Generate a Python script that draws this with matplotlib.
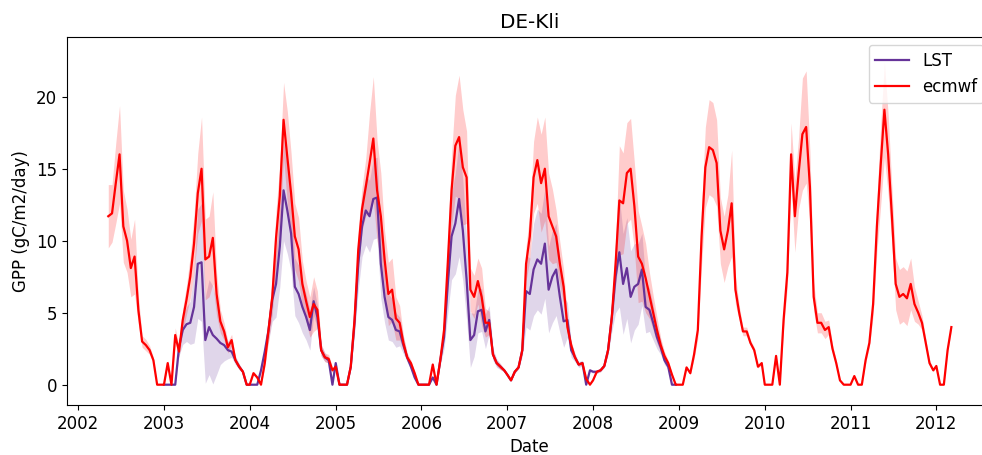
import numpy as np
import pandas as pd
import matplotlib
matplotlib.use("Agg")
import matplotlib.pyplot as plt
import matplotlib.dates as mdates

# 16-day composites (DOY 1, 17, ..., 353), one row per year
ecmwf_gpp = [
    11.7, 11.9, 14.0, 16.0, 11.0, 10.0, 8.1, 8.9, 5.2, 3.0, 2.75, 2.4, 1.7, 0, 0,  # 2002 (from DOY 129)
    0, 1.5, 0, 3.45, 2.3, 4.5, 5.9, 7.5, 9.8, 13.3, 15.0, 8.7, 8.9, 10.2, 6.3, 4.4, 3.7, 2.6, 3.1, 1.7, 1.25, 0.9, 0,
    0, 0.8, 0.5, 0, 1.5, 3.8, 6.1, 10.2, 13.1, 18.4, 15.8, 13.3, 10.3, 9.4, 7.0, 5.8, 4.7, 5.6, 5.2, 2.4, 1.9, 1.8, 1.0,
    1.25, 0, 0, 0, 1.25, 4.5, 9.4, 12.2, 13.75, 15.4, 17.1, 13.5, 11.7, 8.7, 6.3, 6.6, 4.6, 4.3, 2.9, 1.9, 1.5, 0.8, 0,
    0, 0, 0, 1.4, 0, 1.7, 3.8, 8.5, 13.5, 16.6, 17.2, 15.1, 14.4, 6.6, 6.1, 7.2, 6.1, 4.3, 4.3, 2.1, 1.5, 1.25, 1.0,
    0.7, 0.3, 0.9, 1.2, 2.4, 8.4, 10.3, 14.4, 15.6, 14.0, 15.0, 11.7, 11.0, 10.3, 8.4, 6.8, 4.0, 2.75, 1.9, 1.4, 1.5, 0.4, 0,
    0.3, 0.9, 1.0, 1.3, 2.4, 4.7, 8.4, 12.8, 12.6, 14.7, 15.0, 12.4, 8.9, 8.4, 7.4, 6.2, 5.0, 3.8, 2.75, 2.0, 1.5, 0.7, 0,
    0, 0, 1.2, 0.8, 2.1, 3.8, 10.3, 15.1, 16.5, 16.3, 15.4, 10.7, 9.4, 10.7, 12.6, 6.6, 5.0, 3.7, 3.7, 2.9, 2.4, 1.25, 1.5,
    0, 0, 0, 2.0, 0, 4.5, 7.8, 16.0, 11.7, 14.7, 17.4, 17.9, 13.75, 6.1, 4.3, 4.3, 3.8, 4.0, 2.5, 1.5, 0.3, 0, 0,
    0, 0.6, 0, 0, 1.7, 2.9, 5.6, 11.0, 15.2, 19.1, 16.0, 11.7, 7.0, 6.1, 6.3, 6.0, 7.0, 5.6, 5.0, 4.3, 2.9, 1.5, 1.0,
    1.3, 0, 0, 2.4, 4.0,  # 2012 (to DOY 65)
]
ecmwf_sd = [
    2.2, 2.0, 2.8, 3.4, 2.5, 2.2, 2.0, 2.6, 1.0, 0.4, 0.4, 0.3, 0.2, 0, 0,
    0, 0.2, 0, 0.5, 0.4, 0.8, 1.0, 1.5, 2.0, 2.8, 3.6, 2.8, 2.8, 3.2, 1.5, 0.8, 0.6, 0.4, 0.4, 0.2, 0.2, 0.1, 0,
    0, 0.1, 0.1, 0, 0.3, 0.8, 1.2, 1.9, 2.2, 2.6, 3.2, 2.8, 2.3, 2.2, 1.6, 1.4, 1.4, 1.9, 1.3, 0.4, 0.3, 0.3, 0.2,
    0.1, 0, 0, 0, 0.2, 0.8, 1.4, 1.5, 2.0, 3.5, 4.3, 3.5, 3.0, 2.0, 2.2, 2.2, 1.5, 1.2, 0.5, 0.3, 0.2, 0.1, 0,
    0, 0, 0, 0.1, 0, 0.2, 0.6, 1.8, 2.5, 3.5, 4.3, 4.0, 3.2, 1.5, 1.5, 1.6, 2.0, 1.0, 0.8, 0.3, 0.2, 0.2, 0.1,
    0.1, 0, 0.1, 0.1, 0.3, 1.2, 1.6, 2.5, 3.0, 3.4, 3.6, 3.0, 2.6, 1.8, 1.5, 1.2, 0.6, 0.3, 0.2, 0.1, 0.1, 0, 0,
    0, 0.1, 0.1, 0.1, 0.3, 0.6, 1.5, 3.8, 3.5, 3.5, 3.5, 3.0, 3.2, 2.6, 2.4, 1.6, 1.2, 0.9, 0.5, 0.3, 0.2, 0.1, 0,
    0, 0, 0.1, 0.1, 0.3, 0.6, 2.0, 2.8, 3.3, 3.3, 3.0, 2.3, 2.3, 2.5, 3.7, 1.0, 0.5, 0.3, 0.3, 0.2, 0.2, 0.1, 0.1,
    0, 0, 0, 0.1, 0, 0.6, 1.0, 2.2, 2.5, 2.5, 3.9, 3.9, 2.5, 1.0, 0.7, 0.7, 0.6, 0.5, 0.3, 0.2, 0, 0, 0,
    0, 0, 0, 0, 0.2, 0.3, 0.8, 1.8, 2.8, 3.3, 2.8, 2.0, 1.8, 1.9, 1.9, 1.9, 1.8, 1.2, 0.8, 0.5, 0.3, 0.2, 0.1,
    0.1, 0, 0, 0.1, 0.2,
]

# LST-driven model, 2003-2008
lst_gpp = [
    0, 0, 0, 0, 2.6, 3.8, 4.2, 4.3, 5.4, 8.4, 8.5, 3.1, 4.0, 3.45, 3.2, 2.9, 2.75, 2.4, 2.3, 1.7, 1.25, 0.9, 0,
    0, 0, 0, 1.0, 2.3, 3.8, 5.9, 7.0, 9.6, 13.5, 12.1, 10.5, 6.8, 6.3, 5.4, 4.7, 3.8, 5.8, 4.7, 2.4, 1.9, 1.7, 0,
    1.5, 0, 0, 0, 1.25, 4.3, 8.4, 11.0, 12.1, 11.7, 12.9, 13.0, 8.4, 6.1, 4.7, 4.5, 3.8, 3.7, 2.75, 1.9, 1.25, 0.5, 0,
    0, 0, 0, 0.5, 0, 1.7, 3.3, 7.0, 10.3, 11.2, 12.9, 10.7, 7.3, 3.1, 3.45, 5.1, 5.2, 3.7, 4.5, 2.1, 1.5, 1.25, 1.0,
    0.7, 0.3, 0.9, 1.2, 2.4, 6.5, 6.3, 8.0, 8.7, 8.4, 9.8, 6.6, 7.5, 8.0, 6.1, 4.4, 4.5, 2.4, 1.9, 1.4, 1.5, 0, 1.0,
    0.9, 0.9, 1.0, 1.3, 2.4, 4.7, 7.5, 9.2, 7.0, 8.1, 6.1, 6.8, 7.0, 8.0, 5.4, 5.2, 4.3, 3.3, 2.6, 1.7, 1.25, 0, 0,
]
lst_sd = [
    0, 0, 0, 0, 0.6, 1.0, 1.2, 1.5, 2.5, 3.8, 4.1, 3.0, 3.3, 3.4, 2.5, 1.5, 1.1, 0.6, 0.4, 0.3, 0.2, 0.1, 0,
    0, 0, 0, 0.2, 0.4, 0.8, 1.5, 2.3, 2.8, 3.5, 3.0, 2.6, 2.0, 2.0, 1.8, 1.6, 1.4, 1.0, 0.8, 0.4, 0.3, 0.2, 0,
    0.1, 0, 0, 0, 0.2, 0.8, 1.8, 2.1, 2.4, 2.5, 2.8, 2.8, 2.4, 1.8, 1.6, 1.5, 1.2, 1.0, 0.6, 0.3, 0.2, 0.1, 0,
    0, 0, 0, 0, 0, 0.3, 0.8, 2.0, 3.0, 3.5, 4.0, 3.5, 2.8, 1.9, 1.5, 1.5, 1.5, 1.2, 1.0, 0.4, 0.3, 0.2, 0.1,
    0.1, 0, 0.1, 0.1, 0.4, 2.5, 2.5, 3.2, 3.5, 3.5, 3.8, 3.0, 3.2, 3.2, 2.5, 1.8, 1.2, 0.5, 0.3, 0.2, 0.2, 0, 0.1,
    0.1, 0.1, 0.1, 0.1, 0.3, 1.0, 2.5, 3.8, 3.5, 3.5, 3.2, 3.0, 2.8, 2.5, 1.8, 1.5, 1.2, 0.8, 0.5, 0.3, 0.2, 0, 0,
]

# composite dates
dates = [pd.Timestamp(y, 1, 1) + pd.Timedelta(days=d - 1)
         for y in range(2002, 2013) for d in range(1, 366, 16)]
ecmwf_dates = dates[8:8 + len(ecmwf_gpp)]
lst_dates = dates[23:23 + len(lst_gpp)]

ecmwf_gpp = np.array(ecmwf_gpp)
ecmwf_sd = np.array(ecmwf_sd)
lst_gpp = np.array(lst_gpp)
lst_sd = np.array(lst_sd)

plt.rcParams['font.size'] = 12

fig = plt.figure(figsize=(9.82, 4.55), dpi=100)
ax = fig.add_axes([0.0679, 0.1099, 0.9423, 0.8094])

ax.plot(lst_dates, lst_gpp, color='rebeccapurple', lw=1.6, label='LST')
ax.fill_between(lst_dates, lst_gpp - lst_sd, lst_gpp + lst_sd,
                color='rebeccapurple', alpha=0.2, lw=0)
ax.plot(ecmwf_dates, ecmwf_gpp, color='red', lw=1.6, label='ecmwf')
ax.fill_between(ecmwf_dates, ecmwf_gpp - ecmwf_sd, ecmwf_gpp + ecmwf_sd,
                color='red', alpha=0.2, lw=0)

ax.xaxis.set_major_locator(mdates.YearLocator(1))
ax.xaxis.set_major_formatter(mdates.DateFormatter('%Y'))
ax.set_xlim(pd.Timestamp('2001-11-13'), pd.Timestamp('2012-08-25'))
ax.set_ylim(-1.41, 24.17)
ax.set_yticks([0, 5, 10, 15, 20])

ax.set_title('DE-Kli')
ax.set_xlabel('Date')
ax.set_ylabel('GPP (gC/m2/day)')
ax.legend(loc='upper right')

fig.savefig('out.png', dpi=100)
